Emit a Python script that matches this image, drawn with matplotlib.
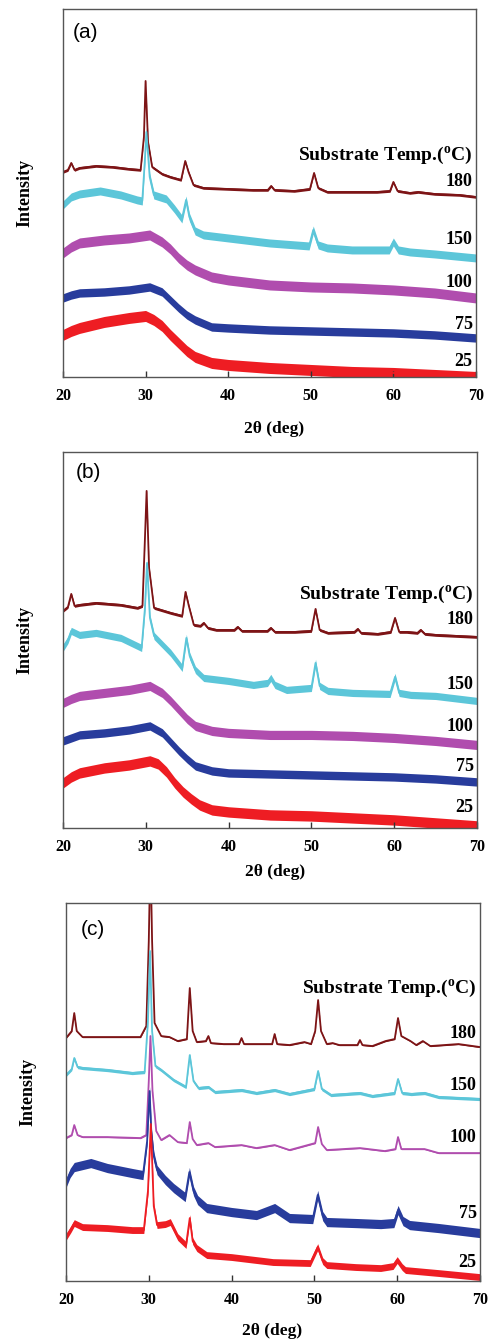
import matplotlib
matplotlib.use("Agg")
import matplotlib.pyplot as plt
import numpy as np

plt.rcParams["font.family"] = "Liberation Serif"
plt.rcParams["font.weight"] = "bold"
plt.rcParams["mathtext.fontset"] = "custom"
plt.rcParams["mathtext.rm"] = "Liberation Serif:bold"
plt.rcParams["mathtext.it"] = "Liberation Serif:bold"

# substrate temperatures (top to bottom) and colours
temps = ["180", "150", "100", "75", "25"]
colors = ["#7d1416", "#5cc6d9", "#b04dae", "#283c9c", "#ee1d23"]

# ---- panel (a): 2theta (deg) and intensity (a.u., stacked)
a_x_180 = [20, 20.6, 21.0, 21.4, 22, 24, 26, 28, 29.4, 29.8, 30.0, 30.3, 30.8, 32, 33, 34.3, 34.8, 35.2,
           35.8, 37, 40, 43, 44.8, 45.2, 45.6, 48, 49.9, 50.4, 50.9, 52, 55, 58, 59.6, 60.0, 60.5, 62, 63,
           65, 68, 70]
a_y_180 = [205, 207, 214, 207, 209, 211, 210, 208, 207, 240, 296, 235, 210, 203, 200, 197, 216, 205,
           192, 189, 188, 187, 187, 191, 187, 186, 188, 204, 189, 185, 185, 185, 186, 195, 186, 184, 185,
           183, 182, 180]
a_x_150 = [20, 21, 22, 24.5, 27, 29, 29.6, 29.9, 30.1, 30.5, 31, 32.5, 33.5, 34.4, 34.9, 35.3, 36, 37, 40,
           45, 49.8, 50.3, 50.9, 52, 55, 59.5, 60.0, 60.6, 62, 65, 70]
a_y_150 = [172, 180, 183, 186, 182, 177, 176, 215, 245, 200, 182, 178, 168, 158, 177, 160, 146, 142, 139,
           134, 131, 147, 132, 129, 127, 127, 135, 127, 125, 123, 119]
a_x_amor = [20, 21, 22, 25, 28, 30.5, 32, 33, 34, 35, 36, 38, 40, 45, 50, 55, 60, 65, 70]
a_y_100 = [124, 130, 134, 137, 139, 142, 135, 128, 119, 112, 107, 100, 97, 92, 90, 89, 87, 84, 79]
a_y_75 = [79, 82, 84, 85, 87, 90, 85, 77, 69, 62, 57, 50, 49, 47, 46, 45, 44, 42, 39]
a_x_25 = [20, 21, 22, 25, 28, 30, 31, 32, 33, 34, 35, 36, 38, 40, 45, 50, 55, 60, 65, 70]
a_y_25 = [42, 46, 49, 55, 59, 61, 57, 51, 42, 34, 26, 20, 14, 12, 9, 7, 5, 4, 2, 0]

# ---- panel (b)
b_x_180 = [20, 20.6, 21.0, 21.4, 22, 24, 27, 29, 29.6, 29.9, 30.1, 30.4, 31, 33, 34.4, 34.8, 35.2, 35.8,
           36.6, 37.0, 37.5, 38.5, 40.7, 41.1, 41.6, 43, 44.7, 45.1, 45.6, 48, 50.0, 50.5, 51.0, 52, 55.2,
           55.6, 56, 58, 59.6, 60.1, 60.6, 61.5, 62.8, 63.2, 63.7, 65, 70]
b_y_180 = [217, 221, 234, 222, 223, 225, 223, 220, 222, 290, 337, 260, 220, 215, 212, 236, 222, 203,
           202, 205, 200, 198, 198, 201, 197, 197, 197, 200, 196, 196, 197, 219, 198, 195, 196,
           199, 195, 194, 196, 210, 196, 196, 195, 198, 194, 193, 191]
b_x_150 = [20, 20.6, 21, 22, 24, 27, 29, 29.5, 29.9, 30.15, 30.5, 31, 33, 34.4, 34.9, 35.3, 36, 37, 40,
           43, 44.7, 45.1, 45.6, 47, 50.0, 50.5, 51.0, 52, 55, 59.5, 60.1, 60.6, 62, 65, 70]
b_y_150 = [180, 188, 197, 193, 195, 190, 182, 180, 220, 265, 210, 192, 175, 160, 190, 172, 158, 150, 147,
           143, 145, 150, 143, 138, 140, 165, 142, 137, 135, 134, 151, 135, 133, 132, 127]
b_x_amor = [20, 21, 22, 25, 28, 30.5, 32, 33, 34, 35, 36, 38, 40, 45, 50, 55, 60, 65, 70]
b_y_100 = [125, 129, 132, 135, 138, 142, 135, 127, 118, 109, 102, 97, 95, 93, 93, 92, 90, 87, 83]
b_y_75 = [87, 90, 93, 95, 98, 102, 95, 86, 77, 69, 62, 57, 55, 54, 53, 52, 51, 49, 46]
b_x_25 = [20, 21, 22, 25, 28, 30.5, 31.5, 32.5, 33.5, 34.5, 35.5, 36.5, 38, 40, 45, 50, 55, 60, 65, 70]
b_y_25 = [45, 51, 55, 60, 63, 67, 64, 56, 45, 36, 29, 23, 18, 16, 13, 12, 10, 8, 5, 2]

# ---- panel (c)
c_x_180 = [20, 20.7, 21.0, 21.3, 22, 25, 29, 29.7, 30.0, 30.2, 30.4, 30.7, 31.5, 32.5, 33.5, 34.6, 34.95,
           35.3, 35.8, 36.9, 37.2, 37.5, 39, 40.9, 41.2, 41.5, 43, 44.9, 45.2, 45.5, 47, 48.8, 49.6, 50.1,
           50.45, 50.8, 51.5, 52.2, 53, 55.2, 55.5, 55.8, 57, 58.6, 59.7, 60.1, 60.5, 61.6, 62.3, 63.1, 64,
           67.4, 70]
c_y_180 = [243, 250, 268, 250, 244, 244, 244, 255, 340, 430, 340, 258, 245, 244, 240, 242, 293,
           250, 239, 240, 245, 238, 237, 237, 243, 237, 237, 237, 247, 237, 236, 239, 237, 250,
           281, 250, 237, 238, 236, 236, 241, 236, 235, 240, 242, 263, 245, 240, 236, 240, 235,
           237, 234]
c_x_150 = [20, 20.7, 21.0, 21.4, 22, 25, 28, 29.5, 29.9, 30.15, 30.4, 30.8, 31.5, 33, 34.5, 34.95, 35.4,
           36, 37.2, 38, 41.2, 43, 45.2, 47, 50.0, 50.45, 50.9, 52, 55.5, 57, 59.7, 60.1, 60.6, 61.7, 63.3,
           65, 70]
c_y_150 = [206, 212, 223, 214, 213, 211, 208, 209, 260, 330, 250, 215, 211, 201, 194, 226, 200,
           193, 194, 189, 191, 188, 191, 187, 192, 210, 192, 186, 188, 185, 188, 202, 188, 187, 188,
           184, 182]
c_x_100 = [20, 20.7, 21.0, 21.4, 22, 25, 29, 29.7, 30.0, 30.2, 30.45, 30.9, 31.5, 32.5, 33.5, 34.6, 34.95,
           35.3, 35.8, 37.2, 38, 41.2, 43, 45.2, 47, 50.1, 50.45, 50.9, 51.5, 55.5, 58.5, 59.8, 60.1, 60.5,
           61.8, 63.3, 65, 70]
c_y_100 = [143, 146, 156, 146, 144, 144, 143, 146, 200, 245, 190, 150, 141, 146, 139, 138, 159,
           142, 136, 138, 134, 136, 133, 136, 131, 138, 154, 137, 131, 133, 130, 132, 144, 132,
           132, 132, 128, 128]
c_x_75 = [20, 20.5, 21, 23, 25, 28, 29.3, 29.8, 30.1, 30.3, 30.6, 31, 32, 33, 34.4, 34.9, 35.4, 35.9, 37,
          40, 43, 45.2, 47, 49.8, 50.4, 51.0, 51.5, 55, 58, 59.6, 60.1, 60.7, 61.5, 65, 70]
c_y_75 = [98, 108, 114, 118, 113, 108, 106, 140, 190, 150, 125, 111, 101, 93, 84, 109, 90, 81, 73,
          69, 66, 73, 63, 62, 86, 65, 59, 58, 57, 58, 71, 60, 56, 53, 48]
c_x_25 = [20, 20.6, 21, 22, 25, 28, 29.4, 29.9, 30.25, 30.6, 31, 32, 32.6, 33.5, 34.5, 34.95, 35.3, 35.8,
          37, 40, 45, 49.5, 50.4, 51.0, 51.5, 55, 58, 59.5, 60.0, 60.6, 61, 65, 70]
c_y_25 = [44, 52, 58, 54, 53, 51, 51, 90, 157, 75, 56, 57, 59, 44, 36, 63, 40, 33,
          26, 24, 19, 18, 34, 20, 16, 14, 13, 15, 21, 14, 11, 8, 4]

xticks = [20, 30, 40, 50, 60, 70]

panels = [
    {"tag": "(a)", "rect": [0.128, 0.7189, 0.8394, 0.2744], "ymax": 368,
     "xs": [a_x_180, a_x_150, a_x_amor, a_x_amor, a_x_25],
     "ys": [a_y_180, a_y_150, a_y_100, a_y_75, a_y_25],
     "band": [1.3, 4.0, 5.0, 4.2, 5.5],
     "lab_y": [195, 137, 94, 52, 15], "title_y": 222,
     "tag_pos": (0.024, 0.935), "xlab_pos": (0.511, -0.141)},
    {"tag": "(b)", "rect": [0.128, 0.3826, 0.8415, 0.2804], "ymax": 376,
     "xs": [b_x_180, b_x_150, b_x_amor, b_x_amor, b_x_25],
     "ys": [b_y_180, b_y_150, b_y_100, b_y_75, b_y_25],
     "band": [1.4, 3.6, 4.6, 4.2, 5.2],
     "lab_y": [208, 143, 101, 61, 20], "title_y": 233,
     "tag_pos": (0.031, 0.944), "xlab_pos": (0.512, -0.117)},
    {"tag": "(c)", "rect": [0.1341, 0.0447, 0.8415, 0.2819], "ymax": 378,
     "xs": [c_x_180, c_x_150, c_x_100, c_x_75, c_x_25],
     "ys": [c_y_180, c_y_150, c_y_100, c_y_75, c_y_25],
     "band": [0.6, 1.6, 0.6, 4.6, 3.4],
     "lab_y": [248, 196, 144, 68, 19], "title_y": 293,
     "tag_pos": (0.036, 0.931), "xlab_pos": (0.498, -0.132)},
]

fig = plt.figure(figsize=(4.92, 13.41), dpi=100)

for p in panels:
    ax = fig.add_axes(p["rect"])
    for x, y, c, t in zip(p["xs"], p["ys"], colors, p["band"]):
        x = np.asarray(x, float)
        y = np.asarray(y, float)
        # noisy traces drawn as a band of vertical spread around the trace
        ax.fill_between(x, y - t, y + t, color=c, lw=0)
        ax.plot(x, y, color=c, lw=1.3)
    ax.set_xlim(20, 70)
    ax.set_ylim(0, p["ymax"])
    ax.set_xticks(xticks)
    ax.set_yticks([])
    ax.tick_params(axis="x", direction="in", length=4, width=1, pad=8,
                   labelsize=11.5, color="#333333")
    for s in ax.spines.values():
        s.set_color("#555555")
        s.set_linewidth(1.0)
    ax.set_xlabel("2θ (deg)", fontsize=12.5, fontweight="bold", va="center")
    ax.xaxis.set_label_coords(*p["xlab_pos"])
    ax.set_ylabel("Intensity", fontsize=13, fontweight="bold", va="center")
    ax.yaxis.set_label_coords(-0.092, 0.5)
    ax.text(p["tag_pos"][0], p["tag_pos"][1], p["tag"], transform=ax.transAxes,
            family="Liberation Sans", fontweight="normal", fontsize=15,
            ha="left", va="center")
    ax.text(69.6, p["title_y"], r"Substrate Temp.($^{\rm o}$C)", fontsize=14,
            ha="right", va="center")
    for t, ly in zip(temps, p["lab_y"]):
        ax.text(69.6, ly, t, fontsize=13, ha="right", va="center")

fig.savefig("out.png", dpi=100)
